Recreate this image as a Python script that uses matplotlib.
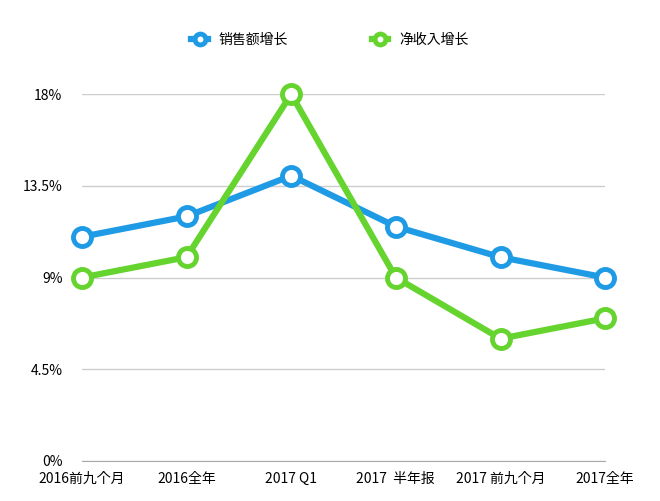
import matplotlib
matplotlib.use("Agg")
import matplotlib.pyplot as plt
from matplotlib import font_manager

names = {f.name for f in font_manager.fontManager.ttflist}
cjk = [n for n in ["Noto Sans CJK SC", "Noto Sans CJK JP", "Noto Sans CJK TC", "Noto Sans CJK KR"] if n in names]
cjk += [n for n in sorted(names) if "CJK" in n and n not in cjk]
plt.rcParams['font.family'] = 'sans-serif'
plt.rcParams['font.sans-serif'] = cjk + ['DejaVu Sans']

categories = ["2016前九个月", "2016全年", "2017 Q1", "2017  半年报", "2017 前九个月", "2017全年"]
sales = [11, 12, 14, 11.5, 10, 9]
income = [9, 10, 18, 9, 6, 7]
yticks = [0, 4.5, 9, 13.5, 18]
ylabels = ["0%", "4.5%", "9%", "13.5%", "18%"]

fig = plt.figure(figsize=(6.6, 5.01), dpi=100)
ax = fig.add_axes([0.124, 0.08, 0.793, 0.732])
x = list(range(len(categories)))
ax.plot(x, sales, color="#1f9be6", lw=4.5, marker="o", ms=13, mfc="white", mew=3.5, clip_on=False, zorder=3, label="销售额增长")
ax.plot(x, income, color="#66d42e", lw=4.5, marker="o", ms=13, mfc="white", mew=3.5, clip_on=False, zorder=4, label="净收入增长")
ax.set_ylim(0, 18)
ax.set_xlim(0, 5)
ax.set_yticks(yticks)
ax.set_yticklabels(ylabels, fontsize=10)
ax.set_xticks(x)
ax.set_xticklabels(categories, fontsize=10)
ax.grid(axis='y', color="#cccccc", lw=1)
for s in ["top", "right", "left"]:
    ax.spines[s].set_visible(False)
ax.spines["bottom"].set_color("#aaaaaa")
ax.tick_params(length=0, pad=14)
ax.tick_params(axis='x', pad=8)
fig.legend(loc="upper center", bbox_to_anchor=(0.5, 0.96), ncol=2, frameon=False, fontsize=10,
           handlelength=1.2, columnspacing=6, markerscale=0.6)
fig.savefig("out.png", dpi=100)
